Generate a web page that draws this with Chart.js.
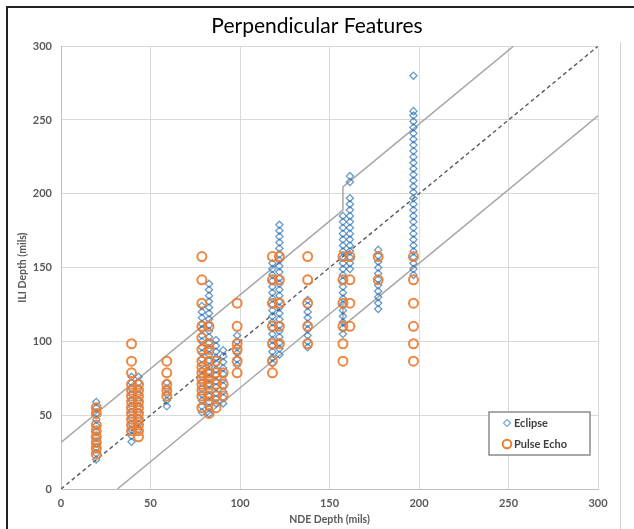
<!DOCTYPE html>
<html>
<head>
<meta charset="utf-8">
<script src="https://cdn.jsdelivr.net/npm/chart.js@4/dist/chart.umd.min.js"></script>
<style>
html,body{margin:0;padding:0;background:#fff;}
#wrap{position:relative;width:634px;height:529px;}
</style>
</head>
<body>
<div id="wrap"><canvas id="c" width="634" height="529"></canvas></div>
<script>
// ---- Data (mils) ----
const ndeColumns = [19.7, 39.4, 43.3, 59.1, 78.7, 82.7, 86.6, 90.6, 98.4, 118.1, 122.0, 137.8, 157.5, 161.4, 177.2, 196.9];

const eclipseDepths = [
  [59, 55, 51, 47, 43, 39, 35, 31, 28, 24, 20],
  [76, 72, 68, 64, 60, 56, 52, 48, 44, 40, 36, 32],
  [76, 72, 68, 64, 60, 56, 52, 48, 44, 40],
  [72, 68, 64, 60, 56],
  [124, 120, 116, 112, 108, 104, 100, 96, 92, 88, 84, 80, 76, 72, 68, 64, 60, 56, 52],
  [139, 135, 131, 127, 123, 119, 115, 111, 107, 103, 99, 95, 91, 87, 83, 79, 75, 71, 67, 63, 59, 55, 51],
  [101, 97, 93, 89, 85, 81, 77, 73, 69, 65, 61, 58],
  [94, 90, 86, 82, 78, 74, 70, 66, 62, 58],
  [104, 100, 96, 92, 88, 84],
  [153, 149, 145, 141, 137, 133, 129, 125, 121, 117, 113, 109, 105, 101, 97, 93, 89, 85],
  [179, 175, 171, 167, 163, 159, 155, 151, 147, 143, 139, 135, 131, 127, 123, 119, 115, 111, 107, 103, 99, 95, 91],
  [128, 124, 120, 116, 112, 108, 104, 100, 96],
  [185, 181, 177, 173, 169, 165, 161, 157, 153, 149, 145, 141, 137, 133, 129, 125, 121, 117, 113, 109, 105],
  [212, 208, 197, 193, 189, 185, 181, 177, 173, 169, 165, 161, 157, 153, 149],
  [162, 158, 154, 150, 146, 142, 138, 134, 130, 126, 122],
  [280, 256, 253, 249, 245, 241, 237, 233, 229, 225, 221, 217, 213, 209, 205, 201, 197, 193, 189, 185, 181, 177, 173, 169, 165, 161, 157, 153, 149, 145]
];

const pulseEchoDepths = [
  [55.1, 51.2, 43.3, 39.4, 35.4, 31.5, 27.6, 23.6],
  [98.4, 86.6, 78.7, 70.9, 66.9, 63.0, 59.1, 55.1, 51.2, 47.2, 43.3, 39.4],
  [70.9, 66.9, 63.0, 59.1, 55.1, 51.2, 47.2, 43.3, 39.4, 35.4],
  [86.6, 78.7, 70.9, 66.9, 63.0],
  [157.5, 141.7, 125.9, 110.2, 102.4, 94.5, 86.6, 82.7, 78.7, 74.8, 70.9, 66.9, 63.0, 55.1],
  [110.2, 98.4, 94.5, 86.6, 78.7, 74.8, 70.9, 63.0, 59.1, 51.2],
  [86.6, 78.7, 70.9, 63.0, 55.1],
  [78.7, 70.9, 63.0],
  [125.9, 110.2, 98.4, 94.5, 86.6, 78.7],
  [157.5, 141.7, 125.9, 110.2, 98.4, 86.6, 78.7],
  [157.5, 141.7, 125.9, 110.2, 98.4],
  [157.5, 141.7, 125.9, 110.2, 98.4],
  [157.5, 141.7, 125.9, 110.2, 98.4, 86.6],
  [157.5, 141.7, 125.9, 110.2],
  [157.5, 141.7],
  [157.5, 141.7, 125.9, 110.2, 98.4, 86.6]
];

const unityLine  = [[0, 0], [300, 300]];
const upperBound = [[0, 31.5], [157.5, 189], [157.5, 204.7], [252.8, 300]];
const lowerBound = [[31.5, 0], [157.5, 126], [157.5, 110.3], [300, 252.8]];

const axisTicks = [0, 50, 100, 150, 200, 250, 300];
const seriesNames = ['Eclipse', 'Pulse Echo'];

// ---- build points ----
function toPoints(cols, depths) {
  const pts = [];
  cols.forEach((x, i) => depths[i].forEach(y => pts.push({x, y})));
  return pts;
}
const pairs = arr => arr.map(p => ({x: p[0], y: p[1]}));

const TXT = '#595959';
const tickFont = {family: 'Lato', size: 11, weight: 'bold'};

const framePlugin = {
  id: 'frame',
  beforeDraw(chart) {
    const ctx = chart.ctx;
    ctx.save();
    ctx.fillStyle = '#fff';
    ctx.fillRect(0, 0, chart.width, chart.height);
    ctx.restore();
  },
  afterDraw(chart) {
    const ctx = chart.ctx;
    ctx.save();
    // outer frame
    ctx.strokeStyle = '#222';
    ctx.lineWidth = 2;
    ctx.beginPath();
    ctx.moveTo(7, 529); ctx.lineTo(7, 7); ctx.lineTo(634, 7);
    ctx.stroke();
    ctx.strokeStyle = '#d4d4d4';
    ctx.lineWidth = 1;
    ctx.beginPath();
    ctx.moveTo(620.5, 42); ctx.lineTo(620.5, 529);
    ctx.stroke();
    // legend box
    const bx = 489, by = 412, bw = 101, bh = 43;
    ctx.fillStyle = '#fff';
    ctx.fillRect(bx, by, bw, bh);
    ctx.strokeStyle = '#8c8c8c';
    ctx.lineWidth = 1.5;
    ctx.strokeRect(bx, by, bw, bh);
    // diamond
    ctx.strokeStyle = 'rgba(91,155,213,0.85)';
    ctx.lineWidth = 1.2;
    ctx.beginPath();
    ctx.moveTo(507, 419.5); ctx.lineTo(510.5, 423); ctx.lineTo(507, 426.5); ctx.lineTo(503.5, 423); ctx.closePath();
    ctx.stroke();
    // circle
    ctx.strokeStyle = '#ED7D31';
    ctx.lineWidth = 2;
    ctx.beginPath();
    ctx.arc(507, 444, 4.3, 0, Math.PI * 2);
    ctx.stroke();
    ctx.fillStyle = '#404040';
    ctx.font = 'bold 11px Lato';
    ctx.textBaseline = 'middle';
    ctx.textAlign = 'left';
    ctx.fillText(seriesNames[0], 514, 423.5);
    ctx.fillText(seriesNames[1], 514, 444.5);
    ctx.restore();
  }
};

new Chart(document.getElementById('c'), {
  type: 'scatter',
  data: {
    datasets: [
      {
        label: seriesNames[0],
        data: toPoints(ndeColumns, eclipseDepths),
        pointStyle: 'rectRot',
        pointRadius: 3.6,
        borderWidth: 1.3,
        borderColor: 'rgba(46,117,182,0.72)',
        backgroundColor: 'rgba(0,0,0,0)',
        order: 2
      },
      {
        label: seriesNames[1],
        data: toPoints(ndeColumns, pulseEchoDepths),
        pointStyle: 'circle',
        pointRadius: 4.5,
        borderWidth: 2,
        borderColor: 'rgba(237,125,49,0.92)',
        backgroundColor: 'rgba(0,0,0,0)',
        order: 1
      },
      {
        label: 'unity',
        type: 'line',
        data: pairs(unityLine),
        showLine: true,
        pointRadius: 0,
        borderColor: '#595959',
        borderWidth: 1.4,
        borderDash: [4, 3],
        fill: false,
        order: 5
      },
      {
        label: 'upper',
        type: 'line',
        data: pairs(upperBound),
        showLine: true,
        pointRadius: 0,
        borderColor: '#a6a6a6',
        borderWidth: 1.5,
        fill: false,
        order: 5
      },
      {
        label: 'lower',
        type: 'line',
        data: pairs(lowerBound),
        showLine: true,
        pointRadius: 0,
        borderColor: '#a6a6a6',
        borderWidth: 1.5,
        fill: false,
        order: 5
      }
    ]
  },
  options: {
    responsive: false,
    animation: false,
    devicePixelRatio: 1,
    layout: {padding: {left: 0, right: 0, top: 8, bottom: 0}},
    plugins: {
      legend: {display: false},
      tooltip: {enabled: false},
      title: {
        display: true,
        text: 'Perpendicular Features',
        color: '#000',
        font: {family: 'Lato', size: 21, weight: 'normal', lineHeight: 1.2},
        padding: {top: 6, bottom: 7}
      }
    },
    scales: {
      x: {
        type: 'linear',
        min: 0, max: 300,
        afterBuildTicks: s => { s.ticks = axisTicks.map(v => ({value: v})); },
        afterFit: s => { s.height = 40; },
        grid: {color: '#d9d9d9', lineWidth: 1, drawTicks: false},
        border: {display: true, color: '#bfbfbf', width: 1},
        ticks: {color: TXT, font: tickFont, padding: 8, maxRotation: 0},
        title: {display: true, text: 'NDE Depth (mils)', color: TXT,
                font: {family: 'Lato', size: 10.5, weight: 'bold', lineHeight: 1.2}, padding: {top: 0, bottom: 3}}
      },
      y: {
        type: 'linear',
        min: 0, max: 300,
        afterBuildTicks: s => { s.ticks = axisTicks.map(v => ({value: v})); },
        afterFit: s => { s.width = 61; },
        grid: {color: '#d9d9d9', lineWidth: 1, drawTicks: false},
        border: {display: true, color: '#bfbfbf', width: 1},
        ticks: {color: TXT, font: tickFont, padding: 9},
        title: {display: true, text: 'ILI Depth (mils)', color: TXT,
                font: {family: 'Lato', size: 10.5, weight: 'bold', lineHeight: 1.2}, padding: {top: 16, bottom: 0}}
      },
      yRight: {
        type: 'linear',
        position: 'right',
        min: 0, max: 300,
        afterFit: s => { s.width = 36; },
        grid: {display: false, drawTicks: false},
        border: {display: false},
        ticks: {display: false},
        title: {display: false}
      }
    }
  },
  plugins: [framePlugin]
});
</script>
</body>
</html>
